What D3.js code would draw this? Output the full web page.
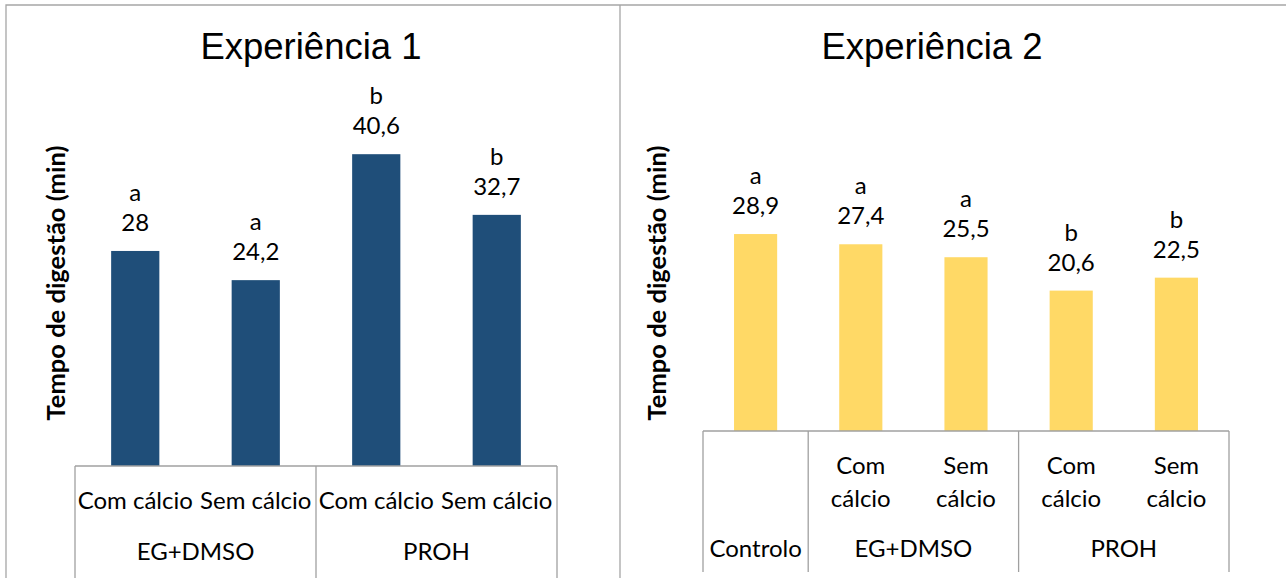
<!DOCTYPE html>
<html>
<head>
<meta charset="utf-8">
<script src="https://cdn.jsdelivr.net/npm/d3@7"></script>
<style>
  body { margin: 0; background: #fff; }
  svg { display: block; }
  .title { font-family: "Liberation Sans", Arial, sans-serif; font-size: 36.5px; fill: #000; }
  .lbl { font-family: Lato, "Open Sans", sans-serif; font-size: 24px; fill: #000; }
  .ytitle { font-family: Lato, "Open Sans", sans-serif; font-size: 25.5px; font-weight: bold; fill: #000; }
  .frame { stroke: #a6a6a6; stroke-width: 1.3; fill: none; }
  .catline { stroke: #a0a0a0; stroke-width: 1.3; fill: none; }
</style>
</head>
<body>
<div class="chart"></div>
<script>
"use strict";
// Experiência 1
var exp1Sub = ["Com cálcio", "Sem cálcio", "Com cálcio", "Sem cálcio"];
var exp1Group = ["EG+DMSO", "EG+DMSO", "PROH", "PROH"];
var exp1Values = [28, 24.2, 40.6, 32.7];
var exp1Letters = ["a", "a", "b", "b"];

// Experiência 2
var exp2Sub = ["", "Com cálcio", "Sem cálcio", "Com cálcio", "Sem cálcio"];
var exp2Group = ["Controlo", "EG+DMSO", "EG+DMSO", "PROH", "PROH"];
var exp2Values = [28.9, 27.4, 25.5, 20.6, 22.5];
var exp2Letters = ["a", "a", "a", "b", "b"];

var W = 1286, H = 578;
var svg = d3.select(".chart").append("svg")
    .attr("width", W)
    .attr("height", H);

//outer frame
svg.append("path").attr("class", "frame")
   .attr("d", "M6," + H + "V5H" + W + "M620,5V" + H);

var panels = [
  { title: "Experiência 1", titleX: 311, sub: exp1Sub, group: exp1Group,
    values: exp1Values, letters: exp1Letters, color: "#1f4e79",
    x0: 75, x1: 557, base: 466, ppu: 7.68, max: 45, pad: 0.6,
    yTitleX: 65, wrap: false, subY: 509, groupY: 560, lineEnd: 578 },
  { title: "Experiência 2", titleX: 932, sub: exp2Sub, group: exp2Group,
    values: exp2Values, letters: exp2Letters, color: "#ffd966",
    x0: 703, x1: 1229, base: 431, ppu: 6.815, max: 35, pad: 0.59,
    yTitleX: 666, wrap: true, subY: 474, groupY: 557, lineEnd: 572 }
];

panels.forEach(function(p){
  var idx = p.values.map(function(d, i){ return i; });
  var x = d3.scaleBand()
      .domain(idx)
      .range([p.x0, p.x1])
      .paddingInner(p.pad)
      .paddingOuter(p.pad / 2);
  var y = d3.scaleLinear()
      .domain([0, p.max])
      .range([p.base, p.base - p.max * p.ppu]);

  var g = svg.append("g");

  //title
  g.append("text").attr("class", "title")
    .attr("x", p.titleX).attr("y", 59)
    .attr("text-anchor", "middle")
    .text(p.title);

  //y axis title
  g.append("text").attr("class", "ytitle")
    .attr("transform", "translate(" + p.yTitleX + "," + 283 + ") rotate(-90)")
    .attr("text-anchor", "middle")
    .text("Tempo de digestão (min)");

  //bars
  g.selectAll(".bar").data(p.values).enter().append("rect")
    .attr("class", "bar")
    .attr("x", function(d, i){ return x(i); })
    .attr("y", function(d){ return y(d); })
    .attr("width", x.bandwidth())
    .attr("height", function(d){ return y(0) - y(d); })
    .style("fill", p.color);

  //value labels
  g.selectAll(".val").data(p.values).enter().append("text")
    .attr("class", "lbl")
    .attr("x", function(d, i){ return x(i) + x.bandwidth() / 2; })
    .attr("y", function(d){ return y(d) - 20; })
    .attr("text-anchor", "middle")
    .text(function(d){ return String(d).replace(".", ","); });

  //letters
  g.selectAll(".let").data(p.letters).enter().append("text")
    .attr("class", "lbl")
    .attr("x", function(d, i){ return x(i) + x.bandwidth() / 2; })
    .attr("y", function(d, i){ return y(p.values[i]) - 50; })
    .attr("text-anchor", "middle")
    .text(function(d){ return d; });

  //category box
  var step = x.step();
  g.append("line").attr("class", "catline")
    .attr("x1", p.x0).attr("x2", p.x1)
    .attr("y1", y(0)).attr("y2", y(0));

  //group spans
  var spans = [];
  p.group.forEach(function(name, i){
    var last = spans[spans.length - 1];
    if (last && last.name === name) last.end = i + 1;
    else spans.push({ name: name, start: i, end: i + 1 });
  });
  var bounds = [0].concat(spans.map(function(s){ return s.end; }));
  g.selectAll(".gline").data(bounds).enter().append("line")
    .attr("class", "catline")
    .attr("x1", function(d){ return p.x0 + d * step; })
    .attr("x2", function(d){ return p.x0 + d * step; })
    .attr("y1", y(0)).attr("y2", p.lineEnd);

  g.selectAll(".glbl").data(spans).enter().append("text")
    .attr("class", "lbl")
    .attr("x", function(d){ return p.x0 + (d.start + d.end) / 2 * step; })
    .attr("y", p.groupY)
    .attr("text-anchor", "middle")
    .text(function(d){ return d.name; });

  //sub labels
  var subs = g.selectAll(".slbl").data(p.sub).enter().append("text")
    .attr("class", "lbl")
    .attr("x", function(d, i){ return x(i) + x.bandwidth() / 2; })
    .attr("y", p.subY)
    .attr("text-anchor", "middle");
  if (p.wrap) {
    subs.each(function(d, i){
      var t = d3.select(this), cx = x(i) + x.bandwidth() / 2;
      d.split(" ").forEach(function(w, k){
        if (!w) return;
        t.append("tspan").attr("x", cx).attr("y", p.subY + k * 33).text(w);
      });
    });
  } else {
    subs.text(function(d){ return d; });
  }
});
</script>
</body>
</html>
